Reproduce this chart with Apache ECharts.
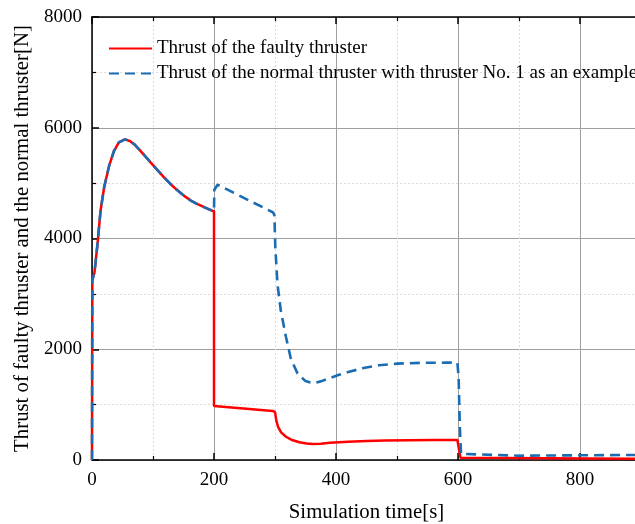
<!DOCTYPE html>
<html>
<head>
<meta charset="utf-8">
<script src="https://cdn.jsdelivr.net/npm/echarts@6/dist/echarts.min.js"></script>
<style>
html,body{margin:0;padding:0;background:#fff;}
#chart{width:635px;height:524px;}
</style>
</head>
<body>
<div id="chart"></div>
<script>
// Faulty thruster
var faultyTime = [0, 0.5, 4, 9, 14, 20, 28, 36, 44, 54, 62, 70, 82, 96, 107, 118, 129, 140, 151, 162, 173, 184, 192, 200,
  200, 296, 300, 302, 305, 310, 318, 328, 340, 352, 362, 375, 390, 420, 450, 480, 520, 560, 599, 600, 604, 606, 900];
var faultyThrust = [0, 3250, 3380, 3900, 4500, 4930, 5310, 5580, 5735, 5790, 5760, 5695, 5550, 5375, 5240, 5105, 4980, 4870, 4770, 4685, 4620, 4565, 4525, 4490,
  975, 885, 870, 720, 600, 500, 420, 360, 320, 298, 290, 295, 310, 330, 345, 352, 357, 360, 362, 360, 40, 22, 22];
// Normal thruster (No. 1)
var normalTime = [0, 0.5, 4, 9, 14, 20, 28, 36, 44, 54, 62, 70, 82, 96, 107, 118, 129, 140, 151, 162, 173, 184, 192, 200,
  200.5, 206, 297, 299, 300.5, 304, 309.5, 318, 326, 337, 350, 358, 366, 375, 390, 405, 420, 445, 470, 500, 540, 580, 599, 601, 603, 605, 608, 700, 800, 900];
var normalThrust = [0, 3250, 3380, 3900, 4500, 4930, 5310, 5580, 5735, 5790, 5760, 5695, 5550, 5375, 5240, 5105, 4980, 4870, 4770, 4685, 4620, 4565, 4525, 4490,
  4880, 4970, 4470, 4420, 3850, 3180, 2700, 2220, 1830, 1560, 1425, 1398, 1395, 1420, 1480, 1540, 1590, 1660, 1710, 1740, 1755, 1758, 1758, 1500, 600, 110, 78, 78, 85, 92];
var xTicks = [0, 200, 400, 600, 800];
var yTicks = [0, 2000, 4000, 6000, 8000];
var seriesNames = ['Thrust of the faulty thruster', 'Thrust of the normal thruster with thruster No. 1 as an example'];

function pairs(t, v) { return t.map(function (x, i) { return [x, v[i]]; }); }

var FONT = 'Liberation Serif';
var chart = echarts.init(document.getElementById('chart'), null, {renderer: 'canvas'});

function axisCommon(show) {
  return {
    axisLine: {show: true, onZero: false, lineStyle: {color: '#000', width: 1.5}},
    axisTick: {show: true, inside: true, length: 7, lineStyle: {color: '#000', width: 1.5}},
    minorTick: {show: true, splitNumber: 2, length: 4, lineStyle: {color: '#000', width: 1.2}},
    splitLine: {show: show, lineStyle: {color: '#a0a0a0', width: 1}},
    minorSplitLine: {show: show, lineStyle: {color: '#dcdcdc', width: 1, type: [2, 2]}}
  };
}

var option = {
  animation: false,
  backgroundColor: '#fff',
  grid: {left: 92, top: 17, height: 443, width: 549, containLabel: false, outerBoundsMode: 'none'},
  legend: {
    orient: 'vertical',
    left: 108,
    top: 38,
    padding: 0,
    itemWidth: 43,
    itemHeight: 14,
    itemGap: 4,
    data: seriesNames,
    itemStyle: {opacity: 0},
    textStyle: {fontFamily: FONT, fontSize: 19, color: '#000', lineHeight: 21}
  },
  xAxis: [
    Object.assign({
      type: 'value', min: 0, max: 900, interval: 200,
      name: 'Simulation time[s]', nameLocation: 'middle', nameGap: 42,
      nameTextStyle: {fontFamily: FONT, fontSize: 20.8, color: '#000'},
      axisLabel: {fontFamily: FONT, fontSize: 19, color: '#000', margin: 11,
        formatter: function (v) { return xTicks.indexOf(v) >= 0 ? String(v) : ''; }}
    }, axisCommon(true)),
    Object.assign({
      type: 'value', min: 0, max: 900, interval: 200, position: 'top',
      axisLabel: {show: false}
    }, axisCommon(false))
  ],
  yAxis: [
    Object.assign({
      type: 'value', min: 0, max: 8000, interval: 2000,
      name: 'Thrust of faulty thruster and the normal thruster[N]', nameLocation: 'middle', nameGap: 56,
      nameTextStyle: {fontFamily: FONT, fontSize: 20.8, color: '#000'},
      axisLabel: {fontFamily: FONT, fontSize: 19, color: '#000', margin: 10,
        formatter: function (v) { return yTicks.indexOf(v) >= 0 ? String(v) : ''; }}
    }, axisCommon(true))
  ],
  series: [
    {
      name: seriesNames[0], type: 'line', showSymbol: false, symbol: 'none',
      data: pairs(faultyTime, faultyThrust), xAxisIndex: 0, yAxisIndex: 0,
      lineStyle: {color: '#ff0000', width: 2.5},
      itemStyle: {color: '#ff0000'}, z: 2
    },
    {
      name: seriesNames[1], type: 'line', showSymbol: false, symbol: 'none',
      data: pairs(normalTime, normalThrust), xAxisIndex: 0, yAxisIndex: 0,
      lineStyle: {color: '#1b6db3', width: 2.6, type: [10, 6]},
      itemStyle: {color: '#1b6db3'}, z: 3
    }
  ]
};
chart.setOption(option);
</script>
</body>
</html>
